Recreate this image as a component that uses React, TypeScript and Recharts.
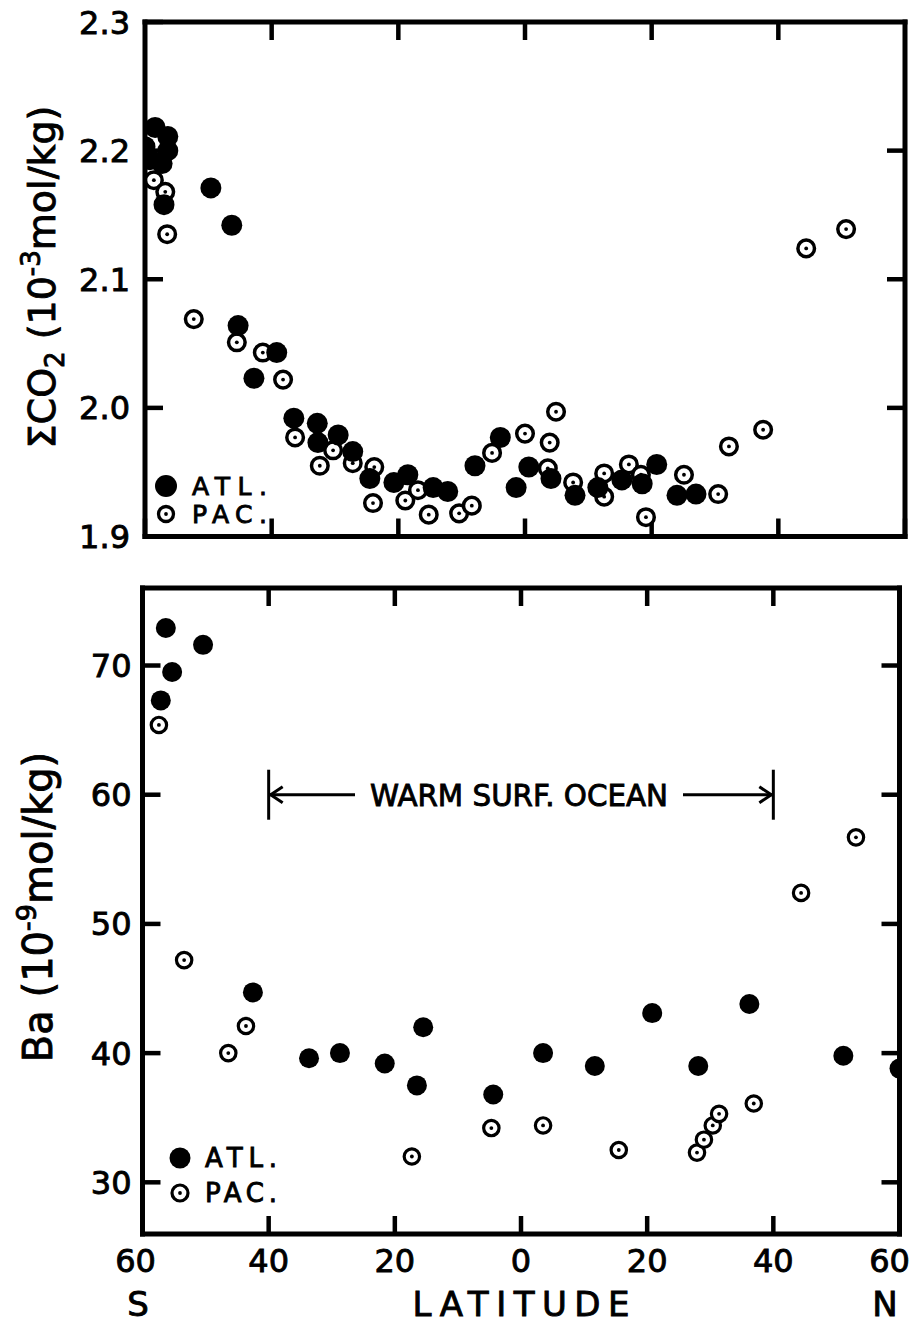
import React from 'react';
import { ScatterChart, Scatter, XAxis, YAxis, ReferenceLine, Legend } from 'recharts';

const FONT = '"DejaVu Sans", Verdana, sans-serif';

// Latitude ticks (negative = south, positive = north)
const latTicks = [-60, -40, -20, 0, 20, 40, 60];
const latInnerTicks = [-40, -20, 0, 20, 40];
const co2Ticks = [1.9, 2.0, 2.1, 2.2, 2.3];
const co2InnerTicks = [2.0, 2.1, 2.2];
const baTicks = [30, 40, 50, 60, 70];

const seriesNames = ['ATL.', 'PAC.'];
const annotationText = 'WARM SURF. OCEAN';
const warmRange = [-40, 40];
const warmLevel = 60;

// [latitude, ΣCO2 (10^-3 mol/kg)]
const co2Atlantic: [number, number][] = [
  [-60, 2.203], [-58.4, 2.218], [-56.4, 2.211], [-56.4, 2.2], [-59.2, 2.193], [-57.3, 2.19],
  [-57.0, 2.158], [-49.6, 2.171], [-46.3, 2.142], [-45.3, 2.064], [-39.2, 2.043], [-42.8, 2.023],
  [-36.5, 1.992], [-32.8, 1.988], [-32.7, 1.973], [-29.5, 1.979], [-27.2, 1.966], [-24.5, 1.945],
  [-20.7, 1.942], [-18.5, 1.948], [-14.5, 1.938], [-12.2, 1.935], [-7.9, 1.955], [-3.9, 1.977],
  [-1.4, 1.938], [0.6, 1.954], [4.1, 1.945], [7.9, 1.932], [11.5, 1.938], [15.3, 1.944],
  [18.5, 1.941], [20.8, 1.956], [24.0, 1.932], [27.0, 1.933],
];
const co2Pacific: [number, number][] = [
  [-58.6, 2.177], [-56.8, 2.168], [-56.5, 2.135], [-52.3, 2.069], [-45.5, 2.051], [-41.4, 2.043],
  [-38.2, 2.022], [-36.3, 1.977], [-32.4, 1.955], [-30.3, 1.967], [-27.2, 1.957], [-23.8, 1.954],
  [-24.0, 1.926], [-18.9, 1.928], [-16.9, 1.936], [-15.2, 1.917], [-10.4, 1.918], [-8.4, 1.924],
  [-5.2, 1.965], [0.0, 1.98], [4.9, 1.997], [3.9, 1.973], [3.6, 1.953], [7.6, 1.942],
  [12.5, 1.949], [12.5, 1.931], [16.4, 1.956], [18.3, 1.948], [19.1, 1.915], [25.1, 1.948],
  [30.5, 1.933], [32.2, 1.97], [37.6, 1.983], [44.4, 2.124], [50.7, 2.139],
];
// [latitude, Ba (10^-9 mol/kg)]
const baAtlantic: [number, number][] = [
  [-56.3, 72.9], [-50.4, 71.6], [-55.3, 69.5], [-57.1, 67.3], [-42.5, 44.7], [-33.6, 39.6],
  [-28.7, 40.0], [-21.6, 39.2], [-15.5, 42.0], [-16.5, 37.5], [-4.4, 36.8], [3.5, 40.0],
  [11.7, 39.0], [20.8, 43.1], [28.1, 39.0], [36.2, 43.8], [51.1, 39.8], [60, 38.8],
];
const baPacific: [number, number][] = [
  [-57.4, 65.4], [-53.4, 47.2], [-43.6, 42.1], [-46.4, 40.0], [-17.3, 32.0], [-4.7, 34.2],
  [3.5, 34.4], [15.5, 32.5], [27.9, 32.3], [29.0, 33.3], [30.4, 34.4], [31.4, 35.3],
  [36.9, 36.1], [44.4, 52.4], [53.1, 56.7],
];

const toRows = (arr: [number, number][]) => arr.map(([lat, v]) => ({ lat, v }));

const INK = '#000';
const TICK_LEN = 18;
const AXIS_LINE = { stroke: INK, strokeWidth: 5, strokeLinecap: 'square' as const };
const TICK_LINE = { stroke: INK, strokeWidth: 4.5 };
const textStyle = { fontFamily: FONT, fill: INK, stroke: INK, strokeWidth: 0.9 };

// Inward ticks: negative tickSize, tickMargin cancels it so p.x / p.y sit on the axis line
const inward = { tickSize: -TICK_LEN, tickMargin: TICK_LEN, tickLine: TICK_LINE, axisLine: AXIS_LINE, interval: 0 as const, allowDataOverflow: true };

const Filled = (r: number) => (p: any) => <circle cx={p.cx} cy={p.cy} r={r} fill={INK} />;
const Open = (r: number, sw: number) => (p: any) => (
  <g>
    <circle cx={p.cx} cy={p.cy} r={r} fill="#fff" stroke={INK} strokeWidth={sw} />
    <circle cx={p.cx} cy={p.cy} r={1.9} fill={INK} />
  </g>
);

const noLabel = () => <g />;
const bottomLabel = (p: any) => {
  const v = p.payload.value;
  const dx = v === -60 ? -7 : v === 60 ? -10 : 0;
  return (
    <text x={p.x + dx} y={p.y + 38} textAnchor="middle" fontSize={32} style={textStyle}>
      {Math.abs(v)}
    </text>
  );
};
const leftLabel = (fmt: (v: number) => string, gap: number) => (p: any) => (
  <text x={p.x - gap} y={p.y} dy="0.36em" textAnchor="end" fontSize={32} style={textStyle}>
    {fmt(p.payload.value)}
  </text>
);

const Co2Title = () => (
  <text transform="translate(55,277) rotate(-90)" textAnchor="middle" fontSize={38} style={textStyle}>
    <tspan>ΣCO</tspan>
    <tspan fontSize={26} dy={9}>2</tspan>
    <tspan dy={-9}> (10</tspan>
    <tspan fontSize={26} dy={-15}>-3</tspan>
    <tspan dy={15}>mol/kg)</tspan>
  </text>
);
const BaTitle = () => (
  <text transform="translate(52,347) rotate(-90)" textAnchor="middle" fontSize={40} style={textStyle}>
    <tspan>Ba (10</tspan>
    <tspan fontSize={27} dy={-16}>-9</tspan>
    <tspan dy={16}>mol/kg)</tspan>
  </text>
);
const LatTitle = () => (
  <g>
    <text x={138} y={756} textAnchor="middle" fontSize={34} style={textStyle}>S</text>
    <text x={521} y={756} textAnchor="middle" fontSize={34} textLength={217} lengthAdjust="spacing" style={textStyle}>
      LATITUDE
    </text>
    <text x={885} y={756} textAnchor="middle" fontSize={34} style={textStyle}>N</text>
  </g>
);

const WarmArrow = (p: any) => {
  const { x1, y1, x2 } = p;
  const y = y1;
  const cx = (x1 + x2) / 2;
  const sw = 3;
  return (
    <g>
      <line x1={x1} x2={x1} y1={y - 25} y2={y + 25} stroke={INK} strokeWidth={sw} />
      <line x1={x2} x2={x2} y1={y - 25} y2={y + 25} stroke={INK} strokeWidth={sw} />
      <line x1={x1} x2={cx - 166} y1={y} y2={y} stroke={INK} strokeWidth={sw} />
      <path d={`M${x1 + 14},${y - 8} L${x1 + 2},${y} L${x1 + 14},${y + 8}`} fill="none" stroke={INK} strokeWidth={sw} />
      <line x1={cx + 162} x2={x2} y1={y} y2={y} stroke={INK} strokeWidth={sw} />
      <path d={`M${x2 - 14},${y - 8} L${x2 - 2},${y} L${x2 - 14},${y + 8}`} fill="none" stroke={INK} strokeWidth={sw} />
      <text x={cx - 2} y={y} dy="0.36em" textAnchor="middle" fontSize={30} textLength={298}
        lengthAdjust="spacingAndGlyphs" style={textStyle}>
        {annotationText}
      </text>
    </g>
  );
};

const legendContent = (cfg: { r: number; ro: number; sw: number; y0: number; dy: number; fs: number; tl: number; tx: number }) => () => (
  <svg width={150} height={80} style={{ display: 'block' }}>
    {seriesNames.map((name, i) => {
      const cy = cfg.y0 + i * cfg.dy;
      return (
        <g key={name}>
          {i === 0 ? (
            <circle cx={18} cy={cy} r={cfg.r} fill={INK} />
          ) : (
            <g>
              <circle cx={18} cy={cy} r={cfg.ro} fill="#fff" stroke={INK} strokeWidth={cfg.sw} />
              <circle cx={18} cy={cy} r={1.9} fill={INK} />
            </g>
          )}
          <text x={cfg.tx} y={cy} dy="0.36em" fontSize={cfg.fs} textLength={cfg.tl} lengthAdjust="spacing" style={textStyle}>
            {name}
          </text>
        </g>
      );
    })}
  </svg>
);

export default function App() {
  return (
    <div style={{ position: 'absolute', left: 0, top: 0, width: 912, height: 1324, background: '#fff' }}>
      <div style={{ position: 'absolute', left: 0, top: 0 }}>
        <ScatterChart width={912} height={560} margin={{ top: 21, right: 6, bottom: 22.5, left: 0 }}>
          <XAxis xAxisId="b" dataKey="lat" type="number" domain={[-60, 60]} ticks={latTicks}
            height={1} {...inward} tick={noLabel} />
          <XAxis xAxisId="t" orientation="top" dataKey="lat" type="number" domain={[-60, 60]} ticks={latInnerTicks}
            height={1} {...inward} tick={noLabel} />
          <YAxis yAxisId="l" dataKey="v" type="number" domain={[1.9, 2.3]} ticks={co2Ticks}
            width={145} {...inward} tick={leftLabel((v) => v.toFixed(1), 15)}
            label={{ content: () => <Co2Title /> }} />
          <YAxis yAxisId="r" orientation="right" dataKey="v" type="number" domain={[1.9, 2.3]} ticks={co2InnerTicks}
            width={1} {...inward} tick={noLabel} />
          <Scatter name={seriesNames[1]} data={toRows(co2Pacific)} xAxisId="b" yAxisId="l"
            shape={Open(8.3, 3.5)} isAnimationActive={false} />
          <Scatter name={seriesNames[0]} data={toRows(co2Atlantic)} xAxisId="b" yAxisId="l"
            shape={Filled(10.5)} isAnimationActive={false} />
          <Legend layout="horizontal" verticalAlign="middle" align="center"
            wrapperStyle={{ position: 'absolute', left: 148, top: 456, width: 150, height: 80 }}
            content={legendContent({ r: 11, ro: 7.5, sw: 3.3, y0: 30, dy: 28, fs: 25, tl: 75, tx: 44 })} />
        </ScatterChart>
      </div>
      <div style={{ position: 'absolute', left: 0, top: 560 }}>
        <ScatterChart width={912} height={764} margin={{ top: 27, right: 11.5, bottom: 0, left: 0 }}>
          <XAxis xAxisId="b" dataKey="lat" type="number" domain={[-60, 60]} ticks={latTicks}
            height={90} {...inward} tick={bottomLabel} label={{ content: () => <LatTitle /> }} />
          <XAxis xAxisId="t" orientation="top" dataKey="lat" type="number" domain={[-60, 60]} ticks={latInnerTicks}
            height={1} {...inward} tick={noLabel} />
          <YAxis yAxisId="l" dataKey="v" type="number" domain={[26, 76]} ticks={baTicks}
            width={142.5} {...inward} tick={leftLabel((v) => String(v), 11)}
            label={{ content: () => <BaTitle /> }} />
          <YAxis yAxisId="r" orientation="right" dataKey="v" type="number" domain={[26, 76]} ticks={baTicks}
            width={1} {...inward} tick={noLabel} />
          <ReferenceLine xAxisId="b" yAxisId="l"
            segment={[{ x: warmRange[0], y: warmLevel }, { x: warmRange[1], y: warmLevel }]}
            shape={WarmArrow} />
          <Scatter name={seriesNames[1]} data={toRows(baPacific)} xAxisId="b" yAxisId="l"
            shape={Open(7.7, 3.2)} isAnimationActive={false} />
          <Scatter name={seriesNames[0]} data={toRows(baAtlantic)} xAxisId="b" yAxisId="l"
            shape={Filled(10)} isAnimationActive={false} />
          <Legend layout="horizontal" verticalAlign="middle" align="center"
            wrapperStyle={{ position: 'absolute', left: 162, top: 570, width: 150, height: 80 }}
            content={legendContent({ r: 10.5, ro: 8, sw: 3.2, y0: 28, dy: 35, fs: 26, tl: 72, tx: 43 })} />
        </ScatterChart>
      </div>
    </div>
  );
}
